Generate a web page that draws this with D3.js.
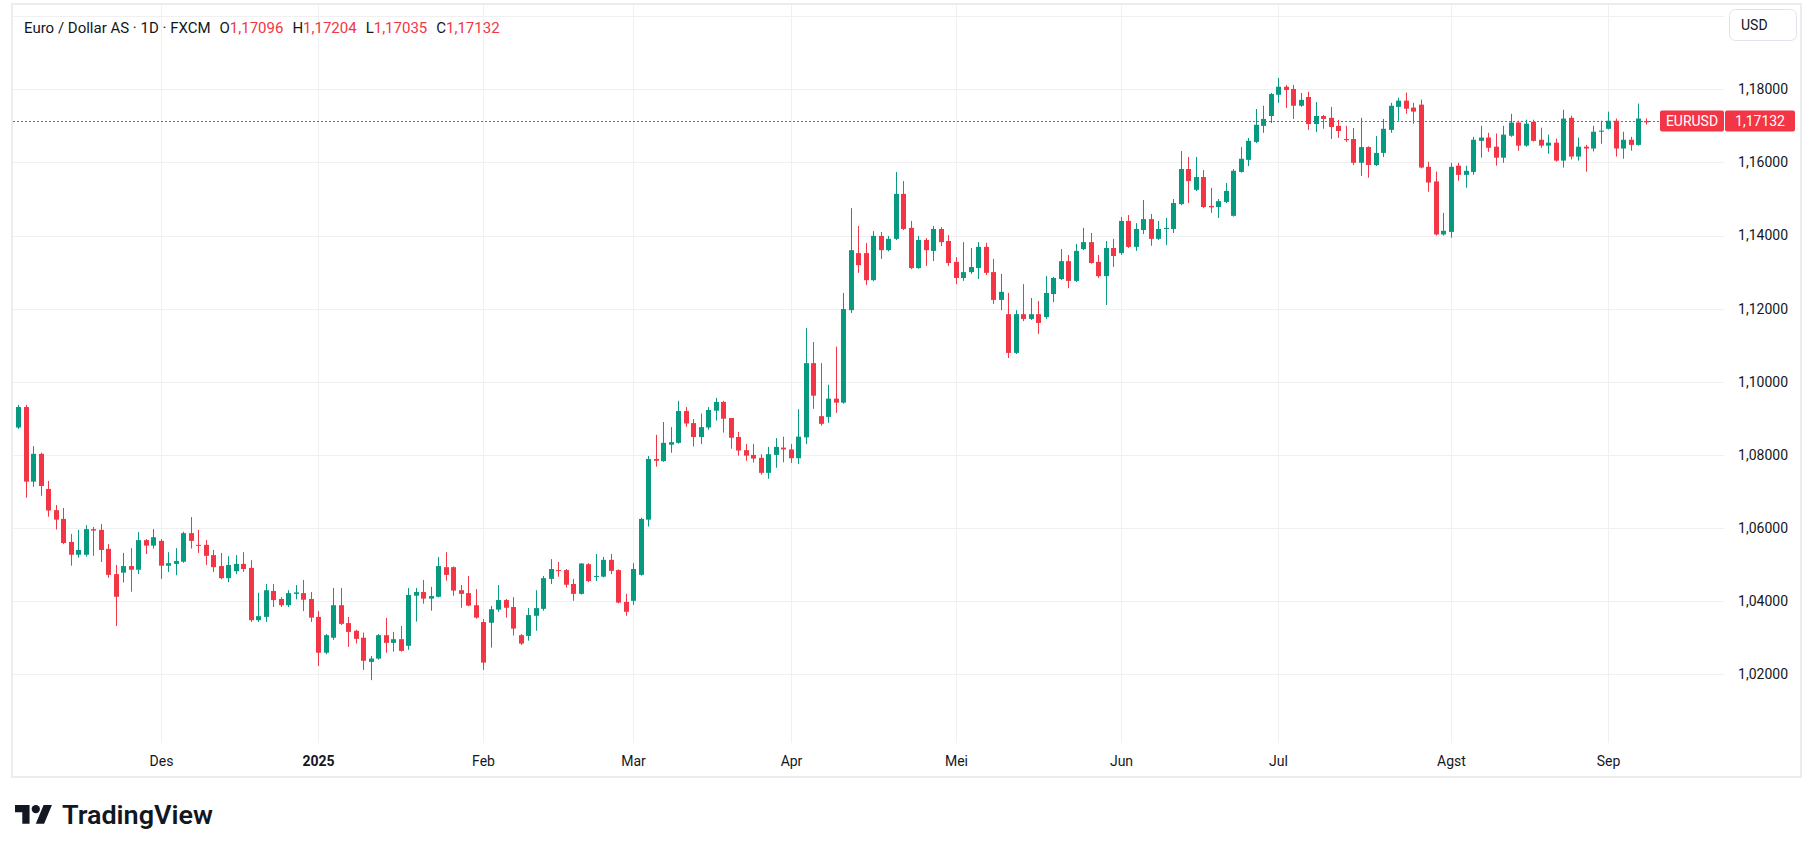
<!DOCTYPE html>
<html lang="en">
<head>
    <meta charset="UTF-8">
    <title>EURUSD 1D</title>
    <style>
        html, body { margin: 0; padding: 0; background: #ffffff; }
        svg { display: block; font-family: Roboto, "Liberation Sans", sans-serif; }
    </style>
    <script src="https://d3js.org/d3.v7.min.js"></script>
</head>
<body>
<script>
// daily bars, first and last trading day; FXCM has no bar on these holidays
const firstDay = "2024-11-05";
const lastDay = "2025-09-08";
const holidays = ["2024-12-25", "2025-01-01"];

const opens = [
    1.0875, 1.0931, 1.0727, 1.0803, 1.0707, 1.0649, 1.0625, 1.0562, 1.0527, 1.0527,
    1.0597, 1.0595, 1.0543, 1.0474, 1.0478, 1.0496, 1.0486, 1.0567, 1.0552, 1.0565,
    1.0497, 1.0502, 1.0508, 1.0586, 1.0554, 1.0554, 1.0526, 1.0496, 1.0463, 1.0482,
    1.0502, 1.0491, 1.0348, 1.0357, 1.0428, 1.0406, 1.0389, 1.0420, 1.0422, 1.0406,
    1.0357, 1.0259, 1.0300, 1.0389, 1.0340, 1.0319, 1.0300, 1.0234, 1.0243, 1.0307,
    1.0286, 1.0296, 1.0278, 1.0415, 1.0425, 1.0407, 1.0412, 1.0472, 1.0493, 1.0430,
    1.0422, 1.0389, 1.0232, 1.0341, 1.0377, 1.0403, 1.0384, 1.0284, 1.0305, 1.0360,
    1.0379, 1.0461, 1.0485, 1.0485, 1.0447, 1.0420, 1.0501, 1.0467, 1.0467, 1.0513,
    1.0485, 1.0398, 1.0401, 1.0472, 1.0623, 1.0789, 1.0783, 1.0828, 1.0833, 1.0920,
    1.0887, 1.0849, 1.0875, 1.0921, 1.0945, 1.0901, 1.0849, 1.0813, 1.0800, 1.0792,
    1.0751, 1.0800, 1.0820, 1.0815, 1.0791, 1.0848, 1.1051, 1.0885, 1.0904, 1.0954,
    1.0943, 1.1196, 1.1319, 1.1352, 1.1278, 1.1399, 1.1360, 1.1391, 1.1514, 1.1421,
    1.1311, 1.1388, 1.1358, 1.1418, 1.1385, 1.1328, 1.1284, 1.1300, 1.1311, 1.1369,
    1.1300, 1.1224, 1.1185, 1.1079, 1.1185, 1.1172, 1.1185, 1.1177, 1.1240, 1.1281,
    1.1330, 1.1276, 1.1363, 1.1382, 1.1328, 1.1289, 1.1366, 1.1352, 1.1440, 1.1369,
    1.1415, 1.1445, 1.1391, 1.1418, 1.1418, 1.1486, 1.1582, 1.1525, 1.1560, 1.1481,
    1.1478, 1.1492, 1.1454, 1.1574, 1.1607, 1.1656, 1.1700, 1.1727, 1.1785, 1.1807,
    1.1801, 1.1755, 1.1779, 1.1705, 1.1727, 1.1722, 1.1700, 1.1664, 1.1664, 1.1599,
    1.1642, 1.1593, 1.1626, 1.1689, 1.1752, 1.1769, 1.1750, 1.1758, 1.1588, 1.1548,
    1.1403, 1.1410, 1.1591, 1.1566, 1.1574, 1.1659, 1.1668, 1.1643, 1.1613, 1.1673,
    1.1709, 1.1646, 1.1711, 1.1662, 1.1646, 1.1654, 1.1605, 1.1722, 1.1616, 1.1643,
    1.1638, 1.1684, 1.1692, 1.1714, 1.1638, 1.1662, 1.1648, 1.17096
];
const highs = [
    1.0937, 1.0937, 1.0824, 1.0806, 1.0729, 1.0663, 1.0655, 1.0584, 1.0595, 1.0608,
    1.0603, 1.0611, 1.0556, 1.0499, 1.0532, 1.0545, 1.0589, 1.0570, 1.0597, 1.0570,
    1.0534, 1.0545, 1.0590, 1.0630, 1.0595, 1.0567, 1.0540, 1.0532, 1.0523, 1.0526,
    1.0534, 1.0512, 1.0423, 1.0447, 1.0447, 1.0411, 1.0430, 1.0444, 1.0458, 1.0425,
    1.0373, 1.0310, 1.0436, 1.0436, 1.0357, 1.0322, 1.0314, 1.0250, 1.0310, 1.0354,
    1.0316, 1.0332, 1.0436, 1.0436, 1.0458, 1.0439, 1.0521, 1.0534, 1.0495, 1.0444,
    1.0469, 1.0433, 1.0351, 1.0387, 1.0444, 1.0406, 1.0411, 1.0310, 1.0381, 1.0430,
    1.0469, 1.0515, 1.0507, 1.0488, 1.0461, 1.0504, 1.0504, 1.0529, 1.0521, 1.0529,
    1.0487, 1.0420, 1.0504, 1.0628, 1.0797, 1.0855, 1.0890, 1.0876, 1.0948, 1.0931,
    1.0898, 1.0913, 1.0931, 1.0956, 1.0948, 1.0901, 1.0863, 1.0830, 1.0830, 1.0802,
    1.0822, 1.0846, 1.0850, 1.0830, 1.0925, 1.1147, 1.1109, 1.1051, 1.0992, 1.1096,
    1.1243, 1.1475, 1.1426, 1.1380, 1.1412, 1.1410, 1.1399, 1.1574, 1.1549, 1.1440,
    1.1399, 1.1393, 1.1426, 1.1423, 1.1401, 1.1341, 1.1382, 1.1366, 1.1382, 1.1380,
    1.1336, 1.1295, 1.1243, 1.1196, 1.1267, 1.1229, 1.1221, 1.1289, 1.1287, 1.1363,
    1.1347, 1.1377, 1.1421, 1.1407, 1.1347, 1.1385, 1.1391, 1.1451, 1.1456, 1.1434,
    1.1497, 1.1459, 1.1440, 1.1448, 1.1500, 1.1631, 1.1615, 1.1615, 1.1579, 1.1530,
    1.1500, 1.1544, 1.1582, 1.1642, 1.1667, 1.1746, 1.1755, 1.1790, 1.1831, 1.1812,
    1.1812, 1.1790, 1.1793, 1.1765, 1.1730, 1.1752, 1.1716, 1.1700, 1.1694, 1.1722,
    1.1644, 1.1672, 1.1719, 1.1763, 1.1777, 1.1791, 1.1763, 1.1772, 1.1602, 1.1575,
    1.1462, 1.1599, 1.1599, 1.1591, 1.1670, 1.1700, 1.1681, 1.1679, 1.1700, 1.1733,
    1.1714, 1.1717, 1.1717, 1.1695, 1.1676, 1.1665, 1.1744, 1.1728, 1.1668, 1.1648,
    1.1700, 1.1714, 1.1739, 1.1720, 1.1684, 1.1670, 1.1761, 1.17204
];
const lows = [
    1.0871, 1.0683, 1.0713, 1.0688, 1.0631, 1.0596, 1.0556, 1.0497, 1.0519, 1.0522,
    1.0524, 1.0507, 1.0464, 1.0332, 1.0451, 1.0426, 1.0474, 1.0529, 1.0544, 1.0461,
    1.0480, 1.0471, 1.0505, 1.0544, 1.0532, 1.0499, 1.0480, 1.0460, 1.0452, 1.0474,
    1.0480, 1.0343, 1.0343, 1.0343, 1.0384, 1.0384, 1.0384, 1.0405, 1.0373, 1.0343,
    1.0223, 1.0255, 1.0294, 1.0335, 1.0275, 1.0284, 1.0212, 1.0184, 1.0240, 1.0259,
    1.0262, 1.0262, 1.0267, 1.0344, 1.0393, 1.0374, 1.0410, 1.0456, 1.0415, 1.0382,
    1.0386, 1.0352, 1.0212, 1.0273, 1.0371, 1.0355, 1.0306, 1.0280, 1.0292, 1.0319,
    1.0374, 1.0447, 1.0467, 1.0437, 1.0401, 1.0418, 1.0452, 1.0455, 1.0465, 1.0474,
    1.0394, 1.0360, 1.0390, 1.0470, 1.0604, 1.0768, 1.0781, 1.0806, 1.0831, 1.0877,
    1.0823, 1.0830, 1.0869, 1.0894, 1.0861, 1.0817, 1.0798, 1.0784, 1.0779, 1.0746,
    1.0735, 1.0765, 1.0780, 1.0778, 1.0775, 1.0830, 1.0926, 1.0880, 1.0888, 1.0915,
    1.0940, 1.1188, 1.1298, 1.1265, 1.1275, 1.1336, 1.1357, 1.1388, 1.1415, 1.1308,
    1.1309, 1.1317, 1.1330, 1.1371, 1.1317, 1.1267, 1.1276, 1.1295, 1.1281, 1.1292,
    1.1213, 1.1196, 1.1065, 1.1076, 1.1166, 1.1169, 1.1131, 1.1172, 1.1218, 1.1278,
    1.1256, 1.1273, 1.1360, 1.1323, 1.1284, 1.1210, 1.1314, 1.1347, 1.1366, 1.1358,
    1.1404, 1.1372, 1.1388, 1.1374, 1.1407, 1.1483, 1.1489, 1.1522, 1.1475, 1.1462,
    1.1448, 1.1489, 1.1452, 1.1572, 1.1590, 1.1653, 1.1681, 1.1708, 1.1763, 1.1749,
    1.1719, 1.1752, 1.1689, 1.1683, 1.1692, 1.1664, 1.1667, 1.1656, 1.1593, 1.1563,
    1.1558, 1.1590, 1.1615, 1.1681, 1.1714, 1.1733, 1.1706, 1.1584, 1.1520, 1.1400,
    1.1400, 1.1394, 1.1550, 1.1531, 1.1566, 1.1613, 1.1629, 1.1591, 1.1599, 1.1670,
    1.1632, 1.1643, 1.1657, 1.1640, 1.1624, 1.1602, 1.1586, 1.1608, 1.1605, 1.1575,
    1.1630, 1.1651, 1.1690, 1.1616, 1.1610, 1.1632, 1.1646, 1.17035
];
const closes = [
    1.0931, 1.0727, 1.0803, 1.0715, 1.0648, 1.0623, 1.0559, 1.0527, 1.0540, 1.0597,
    1.0593, 1.0540, 1.0472, 1.0412, 1.0496, 1.0486, 1.0567, 1.0552, 1.0575, 1.0497,
    1.0504, 1.0510, 1.0586, 1.0565, 1.0552, 1.0524, 1.0493, 1.0463, 1.0499, 1.0502,
    1.0488, 1.0348, 1.0359, 1.0430, 1.0403, 1.0389, 1.0422, 1.0424, 1.0404, 1.0355,
    1.0259, 1.0307, 1.0389, 1.0338, 1.0316, 1.0297, 1.0237, 1.0243, 1.0307, 1.0286,
    1.0296, 1.0264, 1.0417, 1.0425, 1.0407, 1.0414, 1.0496, 1.0493, 1.0429, 1.0420,
    1.0388, 1.0355, 1.0343, 1.0378, 1.0403, 1.0382, 1.0325, 1.0307, 1.0362, 1.0381,
    1.0463, 1.0488, 1.0483, 1.0445, 1.0420, 1.0503, 1.0455, 1.0469, 1.0513, 1.0483,
    1.0396, 1.0371, 1.0488, 1.0625, 1.0789, 1.0784, 1.0833, 1.0835, 1.0920, 1.0886,
    1.0849, 1.0876, 1.0923, 1.0945, 1.0899, 1.0847, 1.0812, 1.0798, 1.0790, 1.0751,
    1.0802, 1.0822, 1.0815, 1.0791, 1.0850, 1.1051, 1.0962, 1.0906, 1.0954, 1.0943,
    1.1199, 1.1360, 1.1352, 1.1278, 1.1399, 1.1360, 1.1391, 1.1514, 1.1418, 1.1311,
    1.1388, 1.1360, 1.1418, 1.1382, 1.1325, 1.1284, 1.1300, 1.1314, 1.1369, 1.1298,
    1.1224, 1.1246, 1.1079, 1.1185, 1.1172, 1.1185, 1.1161, 1.1243, 1.1284, 1.1330,
    1.1276, 1.1358, 1.1382, 1.1325, 1.1289, 1.1366, 1.1344, 1.1440, 1.1369, 1.1418,
    1.1445, 1.1391, 1.1418, 1.1421, 1.1489, 1.1582, 1.1549, 1.1560, 1.1478, 1.1477,
    1.1494, 1.1522, 1.1577, 1.1610, 1.1659, 1.1703, 1.1719, 1.1787, 1.1807, 1.1798,
    1.1755, 1.1771, 1.1705, 1.1727, 1.1719, 1.1697, 1.1686, 1.1661, 1.1599, 1.1642,
    1.1593, 1.1626, 1.1692, 1.1755, 1.1769, 1.1747, 1.1739, 1.1586, 1.1545, 1.1403,
    1.1413, 1.1588, 1.1566, 1.1577, 1.1662, 1.1668, 1.1640, 1.1613, 1.1676, 1.1709,
    1.1646, 1.1706, 1.1659, 1.1646, 1.1654, 1.1605, 1.1720, 1.1616, 1.1643, 1.1638,
    1.1684, 1.1687, 1.1714, 1.1638, 1.1662, 1.1648, 1.1720, 1.17132
];

const priceTicks = [1.02, 1.04, 1.06, 1.08, 1.10, 1.12, 1.14, 1.16, 1.18, 1.20];
const monthNames = ["Jan", "Feb", "Mar", "Apr", "Mei", "Jun", "Jul", "Agst", "Sep", "Okt", "Nov", "Des"];
const symbolTitle = "Euro / Dollar AS · 1D · FXCM";
const symbolShort = "EURUSD";
const currency = "USD";

const width = 1813;
const height = 852;
const plot = { left: 13, right: 1724, top: 5, bottom: 743 };
const upColor = "#089981";
const downColor = "#f23645";
const textColor = "#131722";
const gridColor = "#f0f0f2";

const fmt = d3.formatLocale({ decimal: ",", thousands: ".", grouping: [3], currency: ["", ""] }).format(".5f");

// trading days: weekdays minus holidays
const parse = d3.utcParse("%Y-%m-%d");
const isoDay = d3.utcFormat("%Y-%m-%d");
const dates = d3.utcDay.range(parse(firstDay), d3.utcDay.offset(parse(lastDay), 1))
    .filter(d => d.getUTCDay() !== 0 && d.getUTCDay() !== 6 && !holidays.includes(isoDay(d)));

const bars = closes.map((c, i) => ({
    i: i,
    date: dates[i],
    o: opens[i], h: highs[i], l: lows[i], c: c,
    up: c >= (i > 0 ? closes[i - 1] : opens[i])
}));
const last = bars[bars.length - 1];

const x = d3.scaleLinear().domain([-0.7, 227.4]).range([plot.left, plot.right]);
const y = d3.scaleLinear().domain([1.02, 1.18]).range([674.3, 89.3]);

const svg = d3.select("body").append("svg")
    .attr("width", width)
    .attr("height", height);

svg.append("rect").attr("width", width).attr("height", height).attr("fill", "#ffffff");

// month ticks = first bar of each new month
const monthTicks = bars.filter((d, i) => i > 0 && d.date.getUTCMonth() !== bars[i - 1].date.getUTCMonth());

// grid
svg.append("g")
    .selectAll("line")
    .data(priceTicks)
    .enter().append("line")
    .attr("x1", plot.left).attr("x2", plot.right)
    .attr("y1", d => Math.round(y(d)) + 0.5)
    .attr("y2", d => Math.round(y(d)) + 0.5)
    .attr("stroke", gridColor);

svg.append("g")
    .selectAll("line")
    .data(monthTicks)
    .enter().append("line")
    .attr("x1", d => Math.round(x(d.i)) + 0.5)
    .attr("x2", d => Math.round(x(d.i)) + 0.5)
    .attr("y1", plot.top).attr("y2", plot.bottom)
    .attr("stroke", gridColor);

// price line of the last close
const lastColor = last.up ? upColor : downColor;
svg.append("line")
    .attr("x1", plot.left).attr("x2", 1660)
    .attr("y1", Math.round(y(last.c)) + 0.5)
    .attr("y2", Math.round(y(last.c)) + 0.5)
    .attr("stroke", lastColor)
    .attr("stroke-dasharray", "2,2");

// candles
const candles = svg.append("g")
    .selectAll("g")
    .data(bars)
    .enter().append("g")
    .attr("fill", d => d.up ? upColor : downColor)
    .attr("stroke", d => d.up ? upColor : downColor);

candles.append("line")
    .attr("x1", d => Math.round(x(d.i)) + 0.5)
    .attr("x2", d => Math.round(x(d.i)) + 0.5)
    .attr("y1", d => y(d.h))
    .attr("y2", d => y(d.l))
    .attr("stroke-width", 1);

candles.append("rect")
    .attr("x", d => Math.round(x(d.i)) - 2)
    .attr("width", 5)
    .attr("y", d => y(Math.max(d.o, d.c)))
    .attr("height", d => Math.max(1, Math.abs(y(d.o) - y(d.c))))
    .attr("stroke", "none");

// price axis labels (the top one sits under the currency button, so it is not shown)
svg.append("g")
    .selectAll("text")
    .data(priceTicks.filter(d => y(d) > 45))
    .enter().append("text")
    .attr("x", 1788)
    .attr("y", d => y(d))
    .attr("dy", "0.35em")
    .attr("text-anchor", "end")
    .attr("font-size", "14px")
    .attr("fill", textColor)
    .text(d => fmt(d));

// time axis labels
svg.append("g")
    .selectAll("text")
    .data(monthTicks)
    .enter().append("text")
    .attr("x", d => Math.round(x(d.i)) + 0.5)
    .attr("y", 761)
    .attr("dy", "0.35em")
    .attr("text-anchor", "middle")
    .attr("font-size", "14px")
    .attr("font-weight", d => d.date.getUTCMonth() === 0 ? "bold" : "normal")
    .attr("fill", textColor)
    .text(d => d.date.getUTCMonth() === 0 ? d.date.getUTCFullYear() : monthNames[d.date.getUTCMonth()]);

// last price labels
const ly = y(last.c);
svg.append("rect")
    .attr("x", 1660).attr("y", ly - 10.5).attr("width", 64).attr("height", 21)
    .attr("rx", 2).attr("fill", lastColor);
svg.append("text")
    .attr("x", 1692).attr("y", ly).attr("dy", "0.35em")
    .attr("text-anchor", "middle").attr("font-size", "14px").attr("fill", "#ffffff")
    .text(symbolShort);
svg.append("rect")
    .attr("x", 1725).attr("y", ly - 10.5).attr("width", 70).attr("height", 21)
    .attr("rx", 2).attr("fill", lastColor);
svg.append("text")
    .attr("x", 1760).attr("y", ly).attr("dy", "0.35em")
    .attr("text-anchor", "middle").attr("font-size", "14px").attr("fill", "#ffffff")
    .text(fmt(last.c));

// currency button
svg.append("rect")
    .attr("x", 1729.5).attr("y", 9.5).attr("width", 67).attr("height", 31)
    .attr("rx", 6).attr("fill", "#ffffff").attr("stroke", "#e0e3eb");
svg.append("text")
    .attr("x", 1741).attr("y", 25).attr("dy", "0.35em")
    .attr("font-size", "14px").attr("fill", textColor)
    .text(currency);

// legend
const legend = svg.append("text")
    .attr("x", 24).attr("y", 33)
    .attr("font-size", "15px")
    .attr("fill", textColor);
legend.append("tspan").text(symbolTitle);
[["O", last.o], ["H", last.h], ["L", last.l], ["C", last.c]].forEach(([k, v]) => {
    legend.append("tspan").attr("dx", 9).text(k);
    legend.append("tspan").attr("fill", lastColor).text(fmt(v));
});

// panel border
svg.append("rect")
    .attr("x", 12).attr("y", 4).attr("width", 1789).attr("height", 773)
    .attr("fill", "none").attr("stroke", "#ececec").attr("stroke-width", 2);

// TradingView logo
const logo = svg.append("g").attr("transform", "translate(15,800.8) scale(1.04)").attr("fill", "#131722");
logo.append("path").attr("d", "M14 22H7V11H0V4h14v18zM28 22h-8l7.5-18h8L28 22z");
logo.append("circle").attr("cx", 20).attr("cy", 8).attr("r", 4);
svg.append("text")
    .attr("x", 62).attr("y", 824)
    .attr("font-size", "26px")
    .attr("font-weight", 600)
    .attr("textLength", 151)
    .attr("lengthAdjust", "spacingAndGlyphs")
    .attr("fill", "#131722")
    .text("TradingView");
</script>
</body>
</html>
